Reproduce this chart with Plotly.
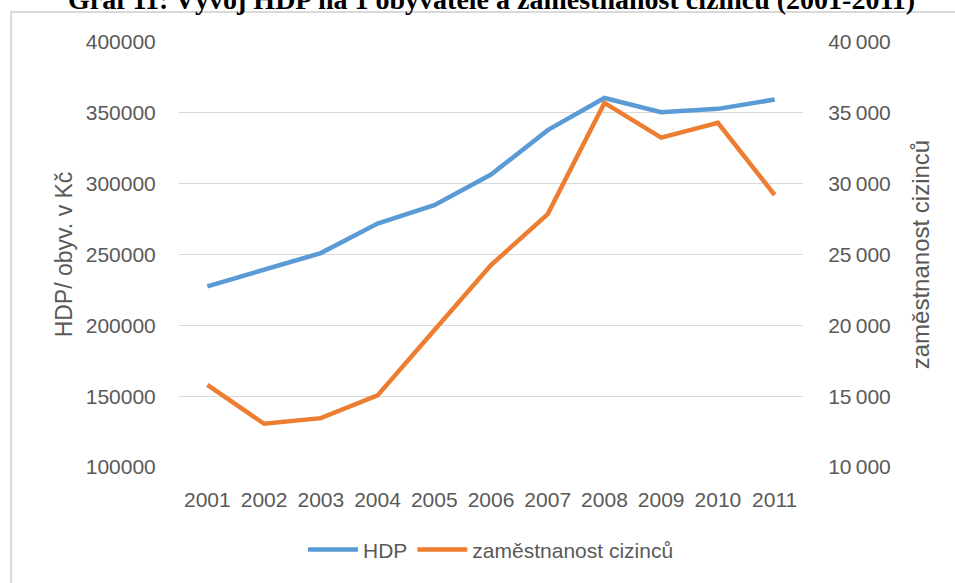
import plotly.graph_objects as go

years = ["2001", "2002", "2003", "2004", "2005", "2006", "2007", "2008", "2009", "2010", "2011"]
# HDP na 1 obyvatele (Kč) - levá osa
hdp = [227500, 238900, 251000, 271800, 284800, 306400, 337800, 360500, 350500, 352800, 359400]
# zaměstnanost cizinců - pravá osa
cizinci = [15800, 13050, 13450, 15050, 19650, 24250, 27850, 35700, 33250, 34300, 29200]

title = "Graf 11: Vývoj HDP na 1 obyvatele a zaměstnanost cizinců (2001-2011)"
grey = "#595959"
font = "Liberation Sans"

fig = go.Figure()
fig.add_trace(go.Scatter(x=years, y=hdp, name="HDP", mode="lines",
                         line=dict(color="#5B9BD5", width=4.5)))
fig.add_trace(go.Scatter(x=years, y=cizinci, name="zaměstnanost cizinců", mode="lines",
                         line=dict(color="#ED7D31", width=4.5), yaxis="y2"))

fig.update_layout(
    width=955, height=583,
    margin=dict(l=179, r=152, t=42, b=116),
    paper_bgcolor="white", plot_bgcolor="white",
    font=dict(family=font, color=grey, size=21),
    separators=",\u2009",
    showlegend=True,
    legend=dict(orientation="h", x=0.5, y=-0.195, xanchor="center", yanchor="middle",
                font=dict(size=21, color=grey), itemwidth=50),
    xaxis=dict(type="category", range=[-0.5, 10.5], showgrid=False, showline=False,
               zeroline=False, ticks="outside", ticklen=14, tickcolor="rgba(0,0,0,0)",
               tickfont=dict(size=21, color=grey)),
    yaxis=dict(range=[100000, 400000], dtick=50000, tickformat="d",
               showgrid=True, gridcolor="#d9d9d9", gridwidth=1, zeroline=False,
               ticks="outside", ticklen=18, tickcolor="rgba(0,0,0,0)",
               tickfont=dict(size=21, color=grey),
               title=dict(text="HDP/ obyv. v Kč", font=dict(size=23, color=grey), standoff=6)),
    yaxis2=dict(range=[10000, 40000], dtick=5000, tickformat=",d", overlaying="y", side="right",
                showgrid=False, zeroline=False,
                ticks="outside", ticklen=20, tickcolor="rgba(0,0,0,0)",
                tickfont=dict(size=21, color=grey),
                title=dict(text="zaměstnanost cizinců", font=dict(size=24, color=grey), standoff=22)),
)

# rámeček grafu (částečně mimo snímek)
fig.add_shape(type="rect", xref="paper", yref="paper",
              x0=-0.269, x1=1.26, y0=-0.3, y1=1.0706,
              line=dict(color="#d9d9d9", width=2), layer="below")

# nadpis, v originále oříznutý horním okrajem
fig.add_annotation(text="<b>" + title + "</b>", xref="paper", yref="paper",
                   x=0.5, y=1.099, xanchor="center", yanchor="middle", showarrow=False,
                   font=dict(family="Liberation Serif", size=28, color="black"))

# bez okraje stránky, aby graf začínal v rohu okna
fig.write_html("out.html", config={"displayModeBar": False},
               post_script="document.body.style.margin='0';")
